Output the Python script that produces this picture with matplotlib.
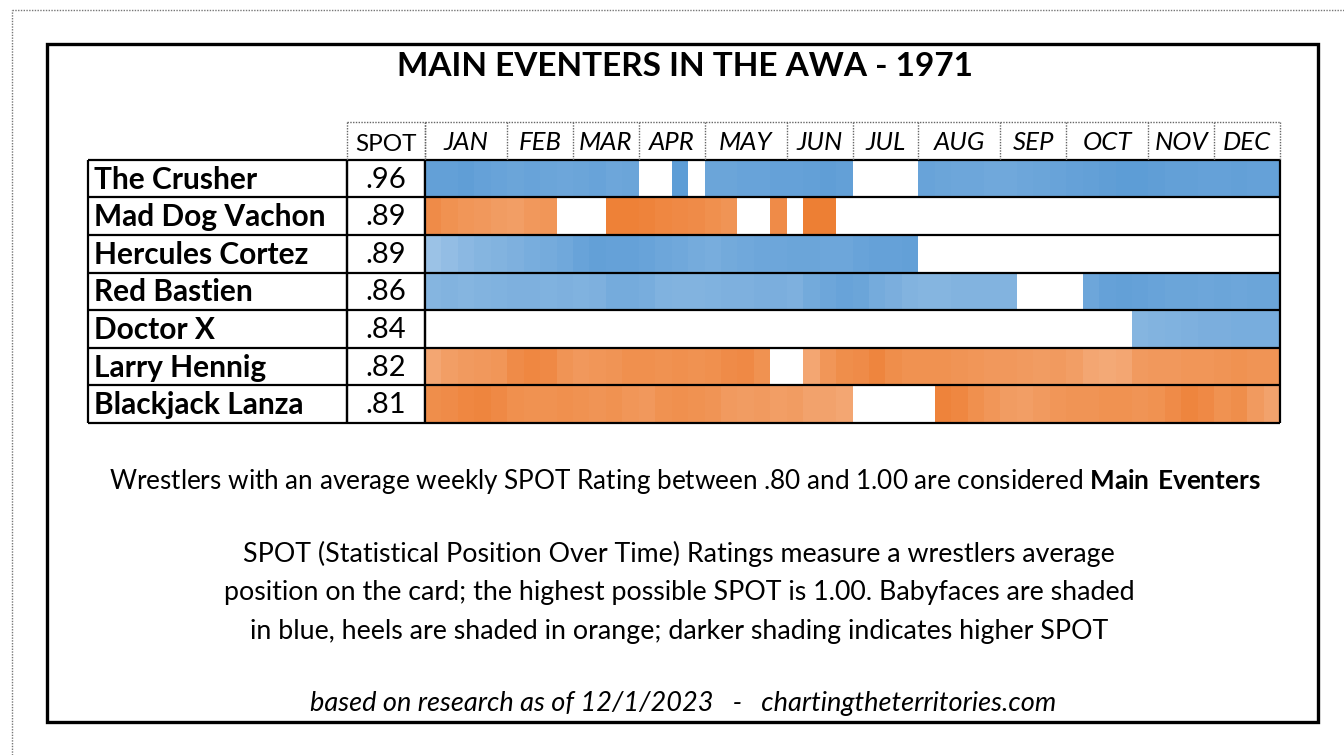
import numpy as np
import matplotlib.pyplot as plt
from matplotlib.colors import LinearSegmentedColormap

plt.rcParams['font.family'] = ['Lato', 'DejaVu Sans']
plt.rcParams['mathtext.fontset'] = 'custom'
plt.rcParams['mathtext.bf'] = 'Lato:bold'
plt.rcParams['mathtext.rm'] = 'Lato'

names = ['The Crusher', 'Mad Dog Vachon', 'Hercules Cortez', 'Red Bastien',
         'Doctor X', 'Larry Hennig', 'Blackjack Lanza']
spot = [0.96, 0.89, 0.89, 0.86, 0.84, 0.82, 0.81]
role = ['face', 'heel', 'face', 'face', 'face', 'heel', 'heel']

months = ['JAN', 'FEB', 'MAR', 'APR', 'MAY', 'JUN', 'JUL', 'AUG', 'SEP', 'OCT', 'NOV', 'DEC']
weeks_in_month = [5, 4, 4, 4, 5, 4, 4, 5, 4, 5, 4, 4]

N = None
# weekly SPOT, None = not booked that week
crusher = [0.97, 0.97, 0.98, 0.96, 0.95, 0.94, 0.95, 0.94, 0.93, 0.94, 0.95, 0.93, 0.94,
           N, N, 0.99, N,
           0.94, 0.94, 0.95, 0.95, 0.96, 0.96, 0.97, 0.98, 0.97,
           N, N, N, N,
           0.95, 0.94, 0.93, 0.93, 0.92, 0.92, 0.93, 0.94, 0.95, 0.96,
           0.97, 0.98, 0.99, 0.99, 0.98, 0.97, 0.97, 0.96, 0.96, 0.97, 0.96, 0.96]
vachon = [0.93, 0.90, 0.88, 0.87, 0.85, 0.84, 0.87, 0.88,
          N, N, N,
          0.98, 0.98, 0.97, 0.95, 0.94, 0.93, 0.91, 0.89,
          N, N, 0.93, N, 0.99, 0.99] + [N] * 27
cortez = [0.76, 0.79, 0.82, 0.84, 0.85, 0.87, 0.89, 0.90, 0.92, 0.95,
          0.97, 0.96, 0.96, 0.95, 0.93, 0.92, 0.90, 0.89, 0.91, 0.92,
          0.93, 0.93, 0.94, 0.94, 0.93, 0.93, 0.95, 0.96, 0.96, 0.97] + [N] * 22
bastien = [0.84, 0.85, 0.84, 0.85, 0.86, 0.87, 0.87, 0.86, 0.87, 0.86,
           0.87, 0.90, 0.90, 0.89, 0.86, 0.85, 0.85, 0.86, 0.87, 0.87,
           0.88, 0.88, 0.87, 0.91, 0.93, 0.95, 0.94, 0.90, 0.88, 0.85,
           0.84, 0.84, 0.85, 0.85, 0.85, 0.85,
           N, N, N, N,
           0.93, 0.96, 0.97, 0.96, 0.95, 0.94, 0.94, 0.93, 0.94, 0.93, 0.94, 0.94]
doctor_x = [N] * 43 + [0.84, 0.85, 0.86, 0.87, 0.88, 0.88, 0.89, 0.89, 0.89]
hennig = [0.80, 0.84, 0.86, 0.87, 0.88, 0.93, 0.95, 0.94, 0.89, 0.87,
          0.88, 0.89, 0.91, 0.91, 0.90, 0.91, 0.90, 0.91, 0.93, 0.94, 0.90,
          N, N,
          0.80, 0.88, 0.92, 0.93, 0.96, 0.92, 0.90, 0.90, 0.90, 0.89,
          0.88, 0.87, 0.87, 0.86, 0.85, 0.86, 0.84, 0.80, 0.79, 0.80,
          0.86, 0.87, 0.87, 0.88, 0.88, 0.89, 0.90, 0.89, 0.89]
lanza = [0.92, 0.93, 0.95, 0.96, 0.94, 0.91, 0.90, 0.90, 0.91, 0.90,
         0.89, 0.90, 0.88, 0.87, 0.90, 0.91, 0.90, 0.89, 0.86, 0.85,
         0.86, 0.84, 0.85, 0.82, 0.82, 0.80,
         N, N, N, N, N,
         0.97, 0.95, 0.91, 0.88, 0.85, 0.84, 0.86, 0.88, 0.89, 0.89,
         0.90, 0.90, 0.89, 0.90, 0.93, 0.96, 0.94, 0.90, 0.92, 0.86, 0.82]

weekly = [crusher, vachon, cortez, bastien, doctor_x, hennig, lanza]

W = 1344
H = 755
fig = plt.figure(figsize=(W / 100, H / 100), dpi=100)

def px_axes(x0, y0, x1, y1):
    return fig.add_axes([x0 / W, 1 - y1 / H, (x1 - x0) / W, (y1 - y0) / H])

# page frame
fig.add_artist(plt.Line2D([12 / W, 1], [1 - 10 / H, 1 - 10 / H], color='#777777', lw=1, ls=(0, (1, 1))))
fig.add_artist(plt.Line2D([12 / W, 12 / W], [0, 1 - 10 / H], color='#777777', lw=1, ls=(0, (1, 1))))
fig.add_artist(plt.Rectangle((47 / W, 1 - 722 / H), (1318 - 47) / W, (722 - 44) / H,
                             fill=False, ec='black', lw=2.4))

fig.text(685 / W, 1 - 67 / H, 'MAIN EVENTERS IN THE AWA - 1971', ha='center', va='center',
         fontsize=24, fontweight='bold')

top, bot = 122, 423
axn = px_axes(88, top, 347, bot)
axs = px_axes(347, top, 425, bot)
axh = px_axes(425, top, 1280, bot)

nrows = len(names)
for a in (axn, axs):
    a.set_xlim(0, 1)
for a in (axn, axs, axh):
    a.set_ylim(nrows, -1)
    a.axis('off')
axh.set_xlim(0, 52)

line_kw = dict(color='black', lw=1.6, clip_on=False)
dot_kw = dict(color='#666666', lw=1, ls=(0, (1, 1)), clip_on=False)

# name and SPOT columns
for i, (nm, s) in enumerate(zip(names, spot)):
    axn.text(0.025, i + 0.53, nm, ha='left', va='center', fontsize=21.5, fontweight='bold')
    axs.text(0.5, i + 0.53, f'{s:.2f}'[1:], ha='center', va='center', fontsize=21)
for a in (axn, axs):
    a.hlines(np.arange(nrows + 1), 0, 1, **line_kw)
    a.vlines([0, 1], 0, nrows, **line_kw)
axs.text(0.5, -0.4, 'SPOT', ha='center', va='center', fontsize=17.5)
axs.hlines(-1, 0, 1, **dot_kw)
axs.vlines([0, 1], -1, 0, **dot_kw)

# heat strip
vals = np.array([[np.nan if v is None else v for v in r] for r in weekly], dtype=float)
is_face = np.array([r == 'face' for r in role])
blue = LinearSegmentedColormap.from_list('face', ['#c5dcf1', '#5b9bd5'])
orange = LinearSegmentedColormap.from_list('heel', ['#f9d0b4', '#ed7d31'])
xe = np.arange(53)
ye = np.arange(nrows + 1)
axh.pcolormesh(xe, ye, np.ma.masked_invalid(np.where(is_face[:, None], vals, np.nan)),
               cmap=blue, vmin=0.6, vmax=1.0, shading='flat', antialiased=False)
axh.pcolormesh(xe, ye, np.ma.masked_invalid(np.where(~is_face[:, None], vals, np.nan)),
               cmap=orange, vmin=0.6, vmax=1.0, shading='flat', antialiased=False)
axh.hlines(np.arange(nrows + 1), 0, 52, **line_kw)
axh.vlines([0, 52], 0, nrows, **line_kw)

edges = np.concatenate([[0], np.cumsum(weeks_in_month)])
for m, a, b in zip(months, edges[:-1], edges[1:]):
    axh.text((a + b) / 2, -0.45, m, ha='center', va='center', fontsize=18.5, fontstyle='italic')
axh.vlines(edges, -1, 0, **dot_kw)
axh.hlines(-1, 0, 52, **dot_kw)

fig.text(685 / W, 1 - 482 / H,
         r'Wrestlers with an average weekly SPOT Rating between .80 and 1.00 are considered $\mathbf{Main\ Eventers}$',
         ha='center', va='center', fontsize=18.8)
para = ['SPOT (Statistical Position Over Time) Ratings measure a wrestlers average',
        'position on the card; the highest possible SPOT is 1.00. Babyfaces are shaded',
        'in blue, heels are shaded in orange; darker shading indicates higher SPOT']
for k, ln in enumerate(para):
    fig.text(679 / W, 1 - (554 + 38.5 * k) / H, ln, ha='center', va='center', fontsize=19.3)
fig.text(683 / W, 1 - 704 / H, 'based on research as of 12/1/2023   -   chartingtheterritories.com',
         ha='center', va='center', fontsize=19.5, fontstyle='italic')

fig.savefig('out.png', dpi=100, facecolor='white')
